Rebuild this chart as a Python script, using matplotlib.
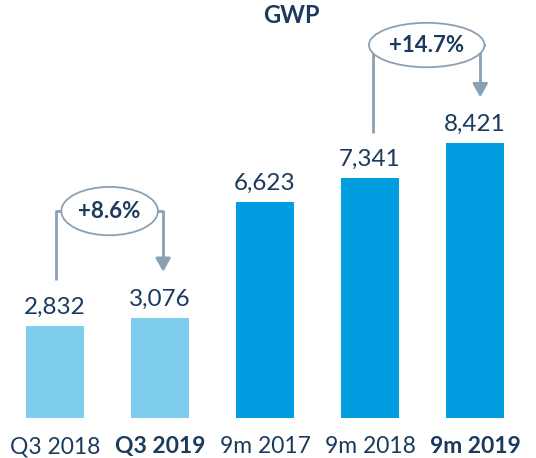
import matplotlib
matplotlib.use("Agg")
import matplotlib.pyplot as plt
from matplotlib.patches import Ellipse

plt.rcParams['font.family'] = ['Lato', 'DejaVu Sans']

categories = ["Q3 2018", "Q3 2019", "9m 2017", "9m 2018", "9m 2019"]
values = [2832, 3076, 6623, 7341, 8421]
colors = ["#7fcdee", "#7fcdee", "#009ee0", "#009ee0", "#009ee0"]
bold_ticks = [False, True, False, False, True]
growth = [(0, 1, "+8.6%"), (3, 4, "+14.7%")]

navy = "#1b3a5e"
line_c = "#8aa0b3"

fig = plt.figure(figsize=(5.36, 4.58), dpi=100)
ax = fig.add_axes([2.5 / 536, 40 / 458, 525 / 536, 418 / 458])
x = range(len(values))
ax.bar(x, values, width=0.56, color=colors)
ax.set_xlim(-0.5, 4.5)
ax.set_ylim(0, 12800)
for s in ax.spines.values():
    s.set_visible(False)
ax.set_yticks([])
ax.set_xticks(list(x))
ax.set_xticklabels(categories, fontsize=16.5, color=navy)
for lab, b in zip(ax.get_xticklabels(), bold_ticks):
    if b:
        lab.set_fontweight("bold")
ax.tick_params(axis="x", length=0, pad=13)

for i, v in enumerate(values):
    ax.text(i, v + 370, f"{v:,}", ha="center", va="baseline", fontsize=17.5, color=navy)

ax.text(2.25, 12330, "GWP", ha="center", va="center", fontsize=17, fontweight="bold", color=navy)

# growth brackets
for a, b, txt in growth:
    start = values[a] + 1400
    tip = values[b] + 1400
    top = max(values[a], values[b]) + (3260 if a == 0 else 3000)
    xl, xr = a + 0.03 if a else a + 0.01, b + 0.05 if a else b + 0.03
    cx = (xl + xr) / 2
    w = 0.92 if a == 0 else 1.1
    h = 1480 if a == 0 else 1360
    ax.plot([xl, xl, cx - w / 2], [start, top, top], color=line_c, lw=2, solid_capstyle="butt")
    ax.plot([cx + w / 2, xr, xr], [top, top, tip + 450], color=line_c, lw=2)
    ax.annotate("", xy=(xr, tip), xytext=(xr, tip + 480),
                arrowprops=dict(arrowstyle="-|>,head_length=0.8,head_width=0.45",
                                color=line_c, lw=2, shrinkA=0, shrinkB=0))
    ax.add_patch(Ellipse((cx, top), w, h, facecolor="white", edgecolor=line_c, lw=1.3, zorder=3))
    ax.text(cx, top, txt, ha="center", va="center", fontsize=16, fontweight="bold", color=navy, zorder=4)

fig.savefig("out.png", dpi=100)
